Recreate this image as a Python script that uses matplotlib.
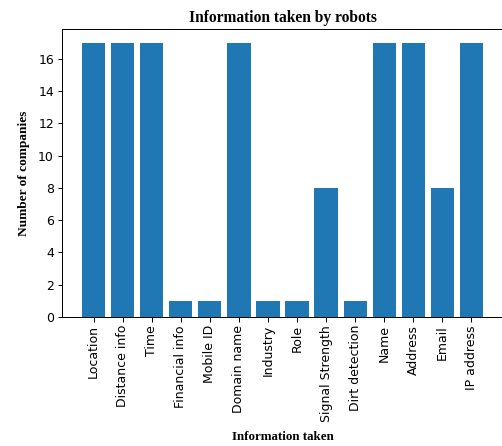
import matplotlib
matplotlib.use("Agg")
import matplotlib.pyplot as plt

categories = ["Location", "Distance info", "Time", "Financial info", "Mobile ID",
              "Domain name", "Industry", "Role", "Signal Strength", "Dirt detection",
              "Name", "Address", "Email", "IP address"]
counts = [17, 17, 17, 1, 1, 17, 1, 1, 8, 1, 17, 17, 8, 17]

W, H = 502, 446
fig = plt.figure(figsize=(W / 72, H / 72), dpi=72)
ax = fig.add_axes([62 / W, (H - 317) / H, (503 - 62) / W, (317 - 29) / H])
ax.bar(categories, counts, color="#1f77b4")
ax.set_yticks(range(0, 17, 2))
ax.tick_params(axis="both", labelsize=12.5, length=4.5, width=1)
plt.setp(ax.get_xticklabels(), rotation=90)
for s in ax.spines.values():
    s.set_linewidth(1)
ax.spines["right"].set_visible(False)
ax.set_title("Information taken by robots", fontfamily="Liberation Serif",
             fontweight="bold", fontsize=15.5, pad=7)
ax.set_xlabel("Information taken", fontfamily="Liberation Serif",
              fontweight="bold", fontsize=13, labelpad=9)
ax.set_ylabel("Number of companies", fontfamily="Liberation Serif",
              fontweight="bold", fontsize=13.4, labelpad=8)
fig.savefig("out.png", dpi=72)
